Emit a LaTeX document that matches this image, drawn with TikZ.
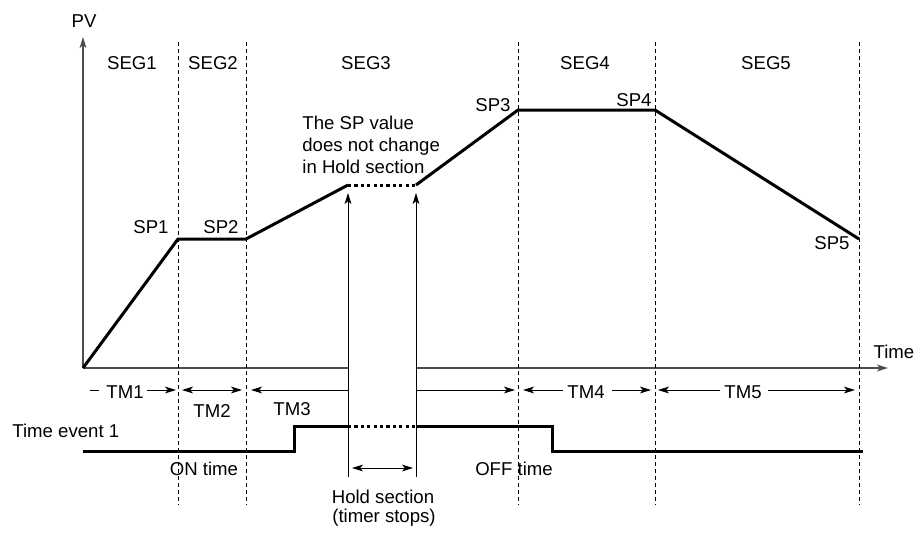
\documentclass[tikz,border=0pt]{standalone}
\usepackage{fontspec}
\setmainfont{Liberation Sans}
\usetikzlibrary{arrows.meta}
\begin{document}
\begin{tikzpicture}[x=0.5pt,y=-0.5pt,
  font=\fontsize{9.3}{11}\selectfont,
  lbl/.style={inner sep=0pt, anchor=base},
  lblw/.style={inner sep=0pt, anchor=base west},
  tip/.style={-{Stealth[length=5.5pt,width=3.4pt,inset=1.4pt]}},
  dtip/.style={{Stealth[length=5.5pt,width=3.4pt,inset=1.4pt]}-{Stealth[length=5.5pt,width=3.4pt,inset=1.4pt]}},
  axis/.style={draw=black!70, line width=0.75pt},
  segline/.style={draw=black, line width=0.5pt, dash pattern=on 2pt off 1.5pt},
  thin/.style={draw=black, line width=0.5pt},
  curve/.style={draw=black, line width=1.5pt},
  holdc/.style={draw=black, line width=1.5pt, dash pattern=on 1.6pt off 1.6pt}
]
\useasboundingbox (0,0) rectangle (918,532);

% axes
\coordinate (O) at (83,368);
\coordinate (ytop) at (83,37);
\coordinate (xa) at (348,368);
\coordinate (xb) at (416,368);
\coordinate (xend) at (888,368);
\draw[axis,tip] (O) -- (ytop);
\draw[axis] (O) -- (xa);
\draw[axis,tip] (xb) -- (xend);
\node[lbl] (pv) at (84,27) {PV};
\node[lbl] (time) at (894,358) {Time};

% segment boundaries
\foreach \n/\x in {b1/178,b2/246,b3/518,b4/655,b5/859}{
  \coordinate (\n t) at (\x,42);
  \coordinate (\n b) at (\x,505);
  \draw[segline] (\n t) -- (\n b);
}
\node[lbl] (seg1) at (132,69) {SEG1};
\node[lbl] (seg2) at (213,69) {SEG2};
\node[lbl] (seg3) at (366,69) {SEG3};
\node[lbl] (seg4) at (585,69) {SEG4};
\node[lbl] (seg5) at (766,69) {SEG5};

% program curve
\coordinate (p1) at (178,239);
\coordinate (p2) at (246,239);
\coordinate (h1) at (348,185);
\coordinate (h2) at (416,185);
\coordinate (p3) at (518,110);
\coordinate (p4) at (655,110);
\coordinate (p5) at (859,239);
\draw[curve, line join=miter] (O) -- (p1) -- (p2) -- (h1);
\draw[holdc] (h1) -- (h2);
\draw[curve, line join=miter] (h2) -- (p3) -- (p4) -- (p5);

\node[lbl] (sp1) at (151,233) {SP1};
\node[lbl] (sp2) at (221,233) {SP2};
\node[lbl] (sp3) at (493,111) {SP3};
\node[lbl] (sp4) at (634,106) {SP4};
\node[lbl] (sp5) at (832,249) {SP5};

\node[lblw] (note1) at (302,129) {The SP value};
\node[lblw] (note2) at (302,151) {does not change};
\node[lblw] (note3) at (302,173) {in Hold section};

% hold section lines
\coordinate (hl1b) at (348,477);
\coordinate (hl1t) at (348,193);
\coordinate (hl2b) at (416,477);
\coordinate (hl2t) at (416,193);
\draw[thin,tip] (hl1b) -- (hl1t);
\draw[thin,tip] (hl2b) -- (hl2t);
\coordinate (ha) at (352,468);
\coordinate (hb) at (413,468);
\draw[thin,dtip] (ha) -- (hb);
\node[lbl] (hold1) at (383,503) {Hold section};
\node[lbl] (hold2) at (384,522) {(timer stops)};

% TM row
\coordinate (t1a) at (90,390);
\coordinate (t1b) at (99,390);
\coordinate (t1c) at (147,390);
\coordinate (t1d) at (176,390);
\draw[thin] (t1a) -- (t1b);
\draw[thin,tip] (t1c) -- (t1d);
\node[lbl] (tm1) at (125,398) {TM1};

\coordinate (t2a) at (182,390);
\coordinate (t2b) at (242,390);
\draw[thin,dtip] (t2a) -- (t2b);
\node[lbl] (tm2) at (212,417) {TM2};

\coordinate (t3a) at (251,390);
\coordinate (t3b) at (348,390);
\coordinate (t3c) at (416,390);
\coordinate (t3d) at (515,390);
\draw[thin,tip] (t3b) -- (t3a);
\draw[thin,tip] (t3c) -- (t3d);
\node[lbl] (tm3) at (292,415) {TM3};

\coordinate (t4a) at (523,390);
\coordinate (t4b) at (563,390);
\coordinate (t4c) at (612,390);
\coordinate (t4d) at (651,390);
\draw[thin,tip] (t4b) -- (t4a);
\draw[thin,tip] (t4c) -- (t4d);
\node[lbl] (tm4) at (586,398) {TM4};

\coordinate (t5a) at (658,390);
\coordinate (t5b) at (720,390);
\coordinate (t5c) at (768,390);
\coordinate (t5d) at (855,390);
\draw[thin,tip] (t5b) -- (t5a);
\draw[thin,tip] (t5c) -- (t5d);
\node[lbl] (tm5) at (743,398) {TM5};

% time event
\coordinate (e0) at (83,451);
\coordinate (e1) at (294,451);
\coordinate (e2) at (294,426);
\coordinate (e3) at (348,426);
\coordinate (e4) at (416,426);
\coordinate (e5) at (552,426);
\coordinate (e6) at (552,451);
\coordinate (e7) at (863,451);
\draw[curve, line join=miter] (e0) -- (e1) -- (e2) -- (e3);
\draw[holdc] (e3) -- (e4);
\draw[curve, line join=miter] (e4) -- (e5) -- (e6) -- (e7);

\node[lblw] (te) at (12,437) {Time event 1};
\node[lbl] (on) at (204,475) {ON time};
\node[lbl] (off) at (514,475) {OFF time};
\end{tikzpicture}
\end{document}
